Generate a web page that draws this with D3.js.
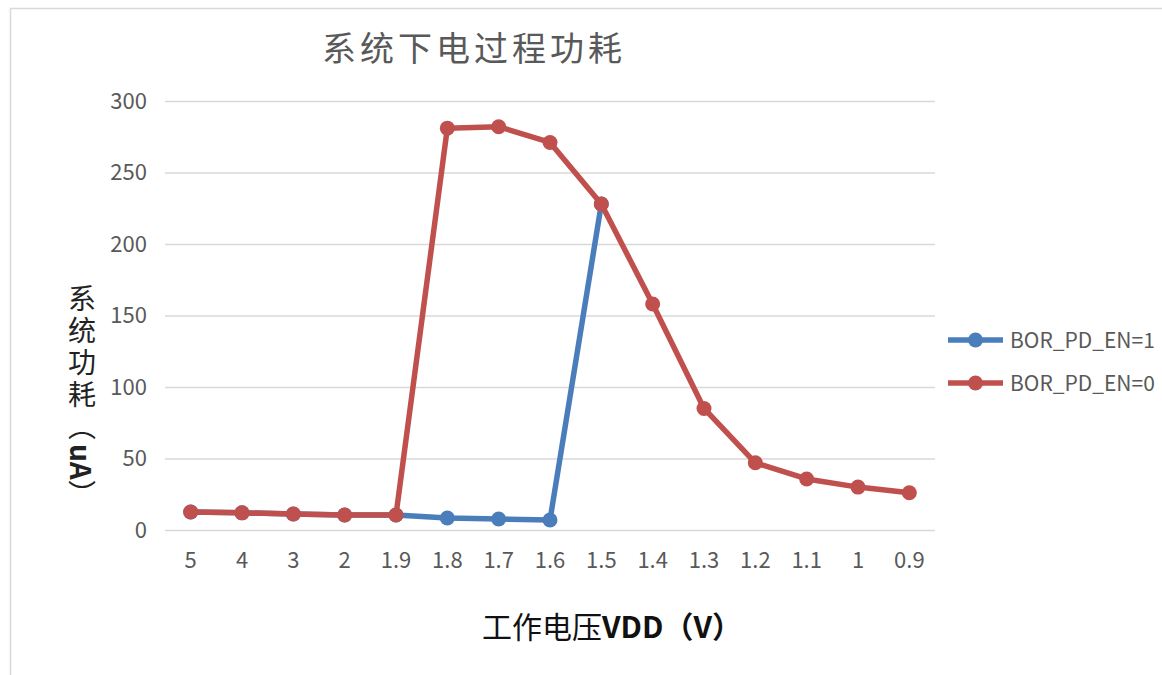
<!DOCTYPE html>
<html><head><meta charset="utf-8">
<script src="https://cdn.jsdelivr.net/npm/d3@7/dist/d3.min.js"></script>
<style>
body{margin:0;background:#fff;}
text{font-family:"Noto Sans CJK SC","Noto Sans",sans-serif;}
</style></head>
<body><svg id="c" width="1162" height="675"></svg>
<script>
const categories = ["5","4","3","2","1.9","1.8","1.7","1.6","1.5","1.4","1.3","1.2","1.1","1","0.9"];
const seriesNames = ["BOR_PD_EN=1","BOR_PD_EN=0"];
const bor1 = [12.6,12,11.2,10.5,10.5,8.4,7.7,7,228,null,null,null,null,null,null];
const bor0 = [12.6,12,11.2,10.5,10.5,281,282,271,228,158,85,47,35.7,30,26];
const yTicks = [0,50,100,150,200,250,300];
const colors = ["#4a7ebb","#c0504d"];

const svg = d3.select("#c");
// outer frame
svg.append("path").attr("d","M10.5,675 V8.5 H1162").attr("fill","none").attr("stroke","#d9d9d9").attr("stroke-width",1.5);

const x = d3.scaleBand().domain(categories).range([165,935]);
const y = d3.scaleLinear().domain([0,300]).range([530,101]);

// grid
svg.append("g").selectAll("line").data(yTicks).join("line")
  .attr("x1",165).attr("x2",935).attr("y1",d=>y(d)+0.5).attr("y2",d=>y(d)+0.5)
  .attr("stroke","#d9d9d9").attr("stroke-width",1.3);

// y axis labels
const ya = svg.append("g").attr("transform","translate(147,0)")
  .call(d3.axisLeft(y).tickValues(yTicks).tickSize(0).tickPadding(0));
ya.select(".domain").remove();
ya.selectAll("text").style("font-size","22px").attr("fill","#595959");

// x axis labels
const xa = svg.append("g").attr("transform","translate(0,552)")
  .call(d3.axisBottom(x).tickSize(0).tickPadding(0));
xa.select(".domain").remove();
xa.selectAll("text").style("font-size","22px").attr("fill","#595959");

const cx = d=>x(d)+x.bandwidth()/2;
const line = d3.line().defined(d=>d.v!=null).x(d=>cx(d.c)).y(d=>y(d.v));
[bor1,bor0].forEach((s,i)=>{
  const data = categories.map((c,j)=>({c,v:s[j]}));
  const g = svg.append("g");
  g.append("path").datum(data).attr("d",line).attr("fill","none")
    .attr("stroke",colors[i]).attr("stroke-width",5.5).attr("stroke-linejoin","round");
  g.selectAll("circle").data(data.filter(d=>d.v!=null)).join("circle")
    .attr("cx",d=>cx(d.c)).attr("cy",d=>y(d.v)).attr("r",7.5).attr("fill",colors[i]);
});

// legend
const lg = svg.append("g");
seriesNames.forEach((n,i)=>{
  const ly = 340 + i*43;
  lg.append("line").attr("x1",948).attr("x2",1003).attr("y1",ly).attr("y2",ly).attr("stroke",colors[i]).attr("stroke-width",5.5);
  lg.append("circle").attr("cx",975.5).attr("cy",ly).attr("r",7.5).attr("fill",colors[i]);
  lg.append("text").attr("x",1010).attr("y",ly+8).attr("font-size",21).attr("fill","#595959").text(n);
});

// title
svg.append("text").attr("x",474).attr("y",61).attr("text-anchor","middle").attr("font-size",34)
  .attr("letter-spacing",4).attr("fill","#595959").text("系统下电过程功耗");

// y title vertical
svg.append("text").attr("x",82).attr("y",284)
  .style("writing-mode","vertical-rl").style("text-orientation","mixed")
  .attr("font-size",28).attr("fill","#222").attr("letter-spacing",4)
  .html('系统功耗（<tspan font-weight="bold" letter-spacing="0">uA</tspan><tspan letter-spacing="4">）</tspan>');

// x title
svg.append("text").attr("x",612).attr("y",638).attr("text-anchor","middle").attr("font-size",30).attr("fill","#111")
  .html('工作电压<tspan font-weight="bold">VDD（V）</tspan>');
</script></body></html>
